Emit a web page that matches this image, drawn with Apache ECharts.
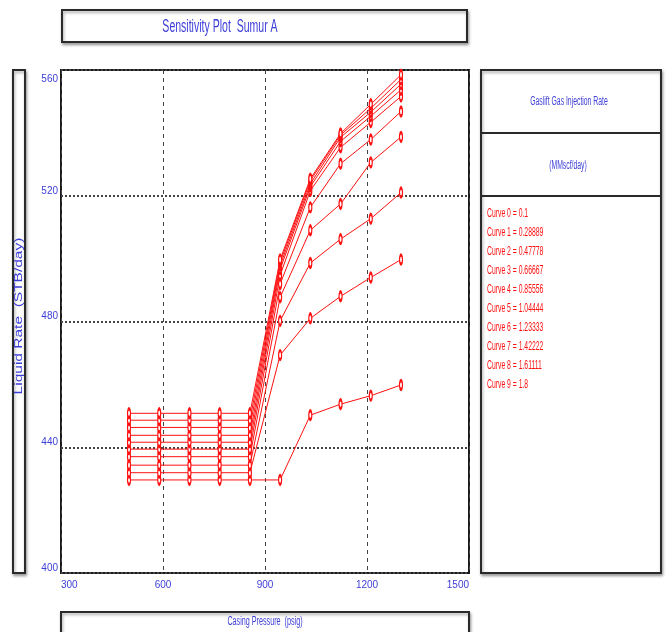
<!DOCTYPE html>
<html>
<head>
<meta charset="utf-8">
<title>Sensitivity Plot Sumur A</title>
<script src="https://cdn.jsdelivr.net/npm/echarts@6/dist/echarts.min.js"></script>
<style>
  html, body { margin: 0; padding: 0; background: #fff; }
  #chart { width: 666px; height: 632px; }
</style>
</head>
<body>
<div id="chart"></div>
<script>
// casing pressure steps (psig)
var casingPressure = [500, 588.9, 677.8, 766.7, 855.6, 944.4, 1033.3, 1122.2, 1211.1, 1300];

// gas lift injection rate of each curve (MMscf/day)
var injRates = ['0.1', '0.28889', '0.47778', '0.66667', '0.85556', '1.04444', '1.23333', '1.42222', '1.61111', '1.8'];

// liquid rate (STB/day), one list per curve
var curve0 = [429.6, 429.6, 429.6, 429.6, 429.6, 429.6, 450.2, 453.7, 456.4, 459.8];
var curve1 = [431.9, 431.9, 431.9, 431.9, 431.9, 469.3, 481.0, 488.0, 494.0, 499.7];
var curve2 = [434.3, 434.3, 434.3, 434.3, 434.3, 480.2, 498.6, 506.2, 512.7, 521.0];
var curve3 = [437.0, 437.0, 437.0, 437.0, 437.0, 487.7, 509.0, 517.4, 530.6, 538.7];
var curve4 = [439.4, 439.4, 439.4, 439.4, 439.4, 491.9, 516.3, 530.2, 537.9, 546.8];
var curve5 = [441.6, 441.6, 441.6, 441.6, 441.6, 494.7, 521.6, 535.4, 543.4, 551.6];
var curve6 = [443.8, 443.8, 443.8, 443.8, 443.8, 496.6, 522.9, 537.3, 545.3, 553.7];
var curve7 = [446.3, 446.3, 446.3, 446.3, 446.3, 497.8, 523.8, 538.6, 546.6, 555.5];
var curve8 = [448.6, 448.6, 448.6, 448.6, 448.6, 498.8, 524.8, 539.3, 547.8, 557.0];
var curve9 = [450.8, 450.8, 450.8, 450.8, 450.8, 499.7, 525.4, 539.8, 549.1, 558.5];

var curves = [curve0, curve1, curve2, curve3, curve4, curve5, curve6, curve7, curve8, curve9];

var blue = '#3d3dd8';
var red = '#ff1010';
var font = "'Liberation Sans Narrow', 'Liberation Sans', Arial, sans-serif";

function box(x, y, w, h) {
  return {
    type: 'rect',
    z: 1,
    shape: { x: x, y: y, width: w, height: h },
    style: {
      fill: '#fff',
      stroke: '#2a2a2a',
      lineWidth: 2,
      shadowBlur: 3,
      shadowOffsetX: 1,
      shadowOffsetY: 2,
      shadowColor: 'rgba(0,0,0,0.35)'
    }
  };
}

// texts in the original are squeezed, so scale them along the text direction
function label(text, x, y, size, color, align, squeeze, rotation) {
  return {
    type: 'text',
    z: 5,
    x: x,
    y: y,
    rotation: rotation || 0,
    scaleX: squeeze,
    style: {
      text: text,
      fill: color,
      font: size + 'px ' + font,
      align: align || 'center',
      verticalAlign: 'middle'
    }
  };
}

var graphics = [
  box(62, 10, 405, 32),
  label('Sensitivity Plot  Sumur A', 220, 27, 18, blue, 'center', 0.585),
  box(13, 70, 12, 503),
  label('Liquid Rate  (STB/day)', 19.5, 316, 10, blue, 'center', 1.55, Math.PI / 2),
  box(61, 612, 408, 24),
  label('Casing Pressure  (psig)', 265, 622, 12, blue, 'center', 0.6),
  box(481, 70, 180, 503),
  { type: 'line', z: 2, shape: { x1: 481, y1: 133, x2: 661, y2: 133 }, style: { stroke: '#2a2a2a', lineWidth: 2 } },
  { type: 'line', z: 2, shape: { x1: 481, y1: 196, x2: 661, y2: 196 }, style: { stroke: '#2a2a2a', lineWidth: 2 } },
  label('Gaslift Gas Injection Rate', 569, 102, 12, blue, 'center', 0.57),
  label('(MMscf/day)', 568, 166, 12, blue, 'center', 0.57)
];
injRates.forEach(function (r, i) {
  graphics.push(label('Curve ' + i + ' = ' + r, 487, 213 + i * 19, 13, red, 'left', 0.525));
});

var chart = echarts.init(document.getElementById('chart'));

chart.setOption({
  animation: false,
  backgroundColor: '#fff',
  graphic: graphics,
  grid: {
    show: true,
    left: 61,
    right: 197,
    top: 70,
    bottom: 59,
    borderColor: '#1a1a1a',
    borderWidth: 2,
    backgroundColor: '#fff'
  },
  xAxis: {
    type: 'value',
    min: 300,
    max: 1500,
    interval: 300,
    axisLine: { show: false },
    axisTick: { show: false },
    axisLabel: {
      color: blue,
      fontSize: 10,
      fontFamily: font,
      margin: 7,
      alignMinLabel: 'left',
      alignMaxLabel: 'right',
      formatter: function (v) { return String(v); }
    },
    splitLine: {
      show: true,
      lineStyle: { color: '#444', width: 1, type: [4, 4] }
    }
  },
  yAxis: {
    type: 'value',
    min: 400,
    max: 560,
    interval: 40,
    axisLine: { show: false },
    axisTick: { show: false },
    axisLabel: {
      color: blue,
      fontSize: 10,
      fontFamily: font,
      margin: 3,
      verticalAlign: 'bottom',
      verticalAlignMinLabel: 'bottom',
      verticalAlignMaxLabel: 'top',
      padding: [4, 0, 0, 0],
      formatter: function (v) { return String(v); }
    },
    splitLine: {
      show: true,
      lineStyle: { color: '#444', width: 2, type: [2, 2] }
    }
  },
  series: curves.map(function (c, i) {
    return {
      name: 'Curve ' + i,
      type: 'line',
      data: casingPressure.map(function (p, j) { return [p, c[j]]; }),
      symbol: 'emptyCircle',
      symbolSize: [3, 9],
      showAllSymbol: true,
      lineStyle: { color: red, width: 1 },
      itemStyle: { color: red, borderColor: red, borderWidth: 0.8 },
      z: 3
    };
  })
});
</script>
</body>
</html>
